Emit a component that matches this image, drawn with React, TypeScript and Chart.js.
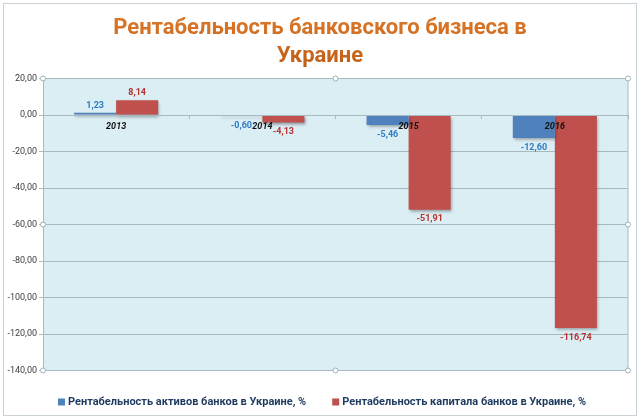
import React, { useEffect, useRef } from "react";
import { Chart, registerables } from "chart.js";

Chart.register(...registerables);

const TITLE_LINES = ["Рентабельность банковского бизнеса в", "Украине"];
const CATEGORIES = ["2013", "2014", "2015", "2016"];
const ROA_LABEL = "Рентабельность активов банков в Украине, %";
const ROE_LABEL = "Рентабельность капитала банков в Украине, %";
const ROA_VALUES = [1.23, -0.6, -5.46, -12.6];
const ROE_VALUES = [8.14, -4.13, -51.91, -116.74];
const Y_MIN = -140;
const Y_MAX = 20;
const Y_STEP = 20;

const BLUE = "#4F81BD";
const RED = "#C0504D";
const BLUE_LABEL = "#2F7BC4";
const RED_LABEL = "#B8312F";
const GRID = "#A9B9C2";
const FONT = "Roboto, 'Liberation Sans', sans-serif";

const fmt = (v: number) => v.toFixed(2).replace(".", ",");

const decorPlugin = {
  id: "decor",
  beforeDraw(chart: any) {
    const { ctx, chartArea: a, width, height } = chart;
    ctx.save();
    ctx.fillStyle = "#ffffff";
    ctx.fillRect(0, 0, width, height);
    ctx.strokeStyle = "#C9D2D7";
    ctx.lineWidth = 1;
    ctx.strokeRect(3.5, 3.5, width - 7, height - 6);
    ctx.fillStyle = "#DBEEF4";
    ctx.fillRect(a.left, a.top, a.right - a.left, a.bottom - a.top);
    ctx.restore();
  },
  beforeDatasetsDraw(chart: any) {
    const ctx = chart.ctx;
    ctx.save();
    ctx.shadowColor = "rgba(0,0,0,0.35)";
    ctx.shadowOffsetX = 1;
    ctx.shadowOffsetY = 2;
    ctx.shadowBlur = 3;
  },
  afterDatasetsDraw(chart: any) {
    const ctx = chart.ctx;
    ctx.restore();
    ctx.save();
    ctx.font = `bold 9px ${FONT}`;
    ctx.textAlign = "center";
    chart.data.datasets.forEach((ds: any, di: number) => {
      const meta = chart.getDatasetMeta(di);
      ctx.fillStyle = di === 0 ? BLUE_LABEL : RED_LABEL;
      meta.data.forEach((bar: any, i: number) => {
        const v = ds.data[i];
        if (v >= 0) {
          ctx.textBaseline = "bottom";
          ctx.fillText(fmt(v), bar.x, bar.y - 3);
        } else {
          ctx.textBaseline = "top";
          ctx.fillText(fmt(v), bar.x, bar.y + 5);
        }
      });
    });
    ctx.restore();
  },
  afterDraw(chart: any) {
    const { ctx, chartArea: a, width } = chart;
    ctx.save();
    ctx.strokeStyle = GRID;
    ctx.lineWidth = 1;
    ctx.strokeRect(a.left + 0.5, a.top, a.right - a.left - 0.5, a.bottom - a.top);
    const mx = (a.left + a.right) / 2;
    const my = (a.top + a.bottom) / 2;
    const pts = [
      [a.left, a.top], [mx, a.top], [a.right, a.top],
      [a.left, a.bottom], [mx, a.bottom], [a.right, a.bottom],
      [a.left, my], [a.right, my],
    ];
    ctx.fillStyle = "#ffffff";
    ctx.strokeStyle = "#9FB0BA";
    pts.forEach(([x, y]) => {
      ctx.beginPath();
      ctx.arc(x, y, 2.5, 0, Math.PI * 2);
      ctx.fill();
      ctx.stroke();
    });
    const grad = ctx.createLinearGradient(0, 12, 0, 68);
    grad.addColorStop(0, "#DD7A2A");
    grad.addColorStop(1, "#BF5E16");
    ctx.fillStyle = grad;
    ctx.font = `bold 22px ${FONT}`;
    ctx.textAlign = "center";
    ctx.textBaseline = "middle";
    ctx.fillText(TITLE_LINES[0], width / 2, 28);
    ctx.fillText(TITLE_LINES[1], width / 2, 56);
    ctx.font = `bold 11px ${FONT}`;
    ctx.textAlign = "left";
    const items = chart.data.datasets.map((d: any) => ({ label: d.label, color: d.backgroundColor }));
    const box = 7;
    const gapBox = 3;
    const gapItem = 26;
    const widths = items.map((it: any) => box + gapBox + ctx.measureText(it.label).width);
    const total = widths.reduce((s: number, w: number) => s + w, 0) + gapItem * (items.length - 1);
    let x = 322 - total / 2;
    const ly = 402;
    items.forEach((it: any, i: number) => {
      ctx.fillStyle = it.color;
      ctx.fillRect(x, ly - box / 2, box, box);
      ctx.fillStyle = "#1F3A5F";
      ctx.fillText(it.label, x + box + gapBox, ly + 0.5);
      x += widths[i] + gapItem;
    });
    ctx.restore();
  },
};

export default function App() {
  const ref = useRef<HTMLCanvasElement>(null);
  useEffect(() => {
    document.body.style.margin = "0";
    const chart = new Chart(ref.current as HTMLCanvasElement, {
      type: "bar",
      data: {
        labels: CATEGORIES,
        datasets: [
          { label: ROA_LABEL, data: ROA_VALUES, backgroundColor: BLUE, categoryPercentage: 0.575, barPercentage: 1 },
          { label: ROE_LABEL, data: ROE_VALUES, backgroundColor: RED, categoryPercentage: 0.575, barPercentage: 1 },
        ],
      },
      options: {
        animation: false,
        responsive: false,
        maintainAspectRatio: false,
        layout: { padding: { left: 0, right: 12, top: 78.5, bottom: 47.5 } },
        plugins: { legend: { display: false }, title: { display: false }, tooltip: { enabled: false } },
        scales: {
          x: {
            type: "category",
            position: { y: 0 },
            grid: { display: true, drawOnChartArea: false, drawTicks: true, tickLength: 3, color: GRID, offset: true, z: 1 },
            border: { display: true, color: GRID, z: 1 },
            ticks: { z: 2, font: { family: FONT, size: 9, style: "italic", weight: "bold" }, color: "#111111", padding: 3 },
          },
          y: {
            min: Y_MIN,
            max: Y_MAX,
            afterFit: (s: any) => { s.width = 43; },
            grid: { color: GRID, drawTicks: true, tickLength: 4 },
            border: { display: true, color: GRID },
            ticks: {
              stepSize: Y_STEP,
              padding: 2,
              color: "#404040",
              font: { family: FONT, size: 9 },
              callback: (v: any) => fmt(Number(v)),
            },
          },
        },
      },
      plugins: [decorPlugin],
    });
    return () => chart.destroy();
  }, []);
  return (
    <div style={{ position: "absolute", left: 0, top: 0, width: 640, height: 418 }}>
      <canvas ref={ref} width={640} height={418} style={{ width: 640, height: 418 }} />
    </div>
  );
}
